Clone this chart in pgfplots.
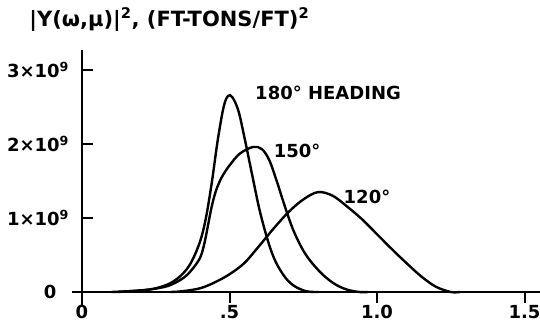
\documentclass[border=0pt]{standalone}
\usepackage{pgfplots}
\pgfplotsset{compat=1.18}
\usepackage{fontspec}
\setmainfont{DejaVu Sans}

\begin{document}
\begin{tikzpicture}
\useasboundingbox (-82pt,-34pt) rectangle (458pt,292pt);
\begin{axis}[
  anchor=origin, at={(0pt,0pt)},
  scale only axis,
  width=468.5pt, height=255.3pt,
  xmin=-0.035, xmax=1.553, ymin=-0.18, ymax=3.27,
  axis lines=middle,
  axis line style={-, line width=2.4pt},
  every inner x axis line/.append style={-},
  every inner y axis line/.append style={-},
  clip=false,
  xtick={0,0.5,1,1.5},
  xticklabels={0,.5,1.0,1.5},
  ytick={0,1,2,3},
  yticklabels={0,1×10\textsuperscript{9},2×10\textsuperscript{9},3×10\textsuperscript{9}},
  major tick length=11pt,
  tick align=center,
  tick style={line width=2pt, black},
  xtick style={yshift=-5.5pt},
  ytick style={xshift=5.5pt},
  tick label style={font=\bfseries\fontsize{18}{20}\selectfont},
  xticklabel style={yshift=-4pt},
  yticklabel style={xshift=-4pt},
]
\addplot[line width=2.4pt, smooth, tension=0.55] coordinates {
 (0.10,0) (0.20,0.02) (0.25,0.05) (0.30,0.12) (0.34,0.24) (0.37,0.40) (0.40,0.68)
 (0.42,1.0) (0.44,1.48) (0.46,2.05) (0.48,2.50) (0.495,2.65) (0.51,2.63) (0.53,2.45)
 (0.55,2.10) (0.58,1.52) (0.60,1.14) (0.62,0.83) (0.64,0.57) (0.66,0.38) (0.69,0.19)
 (0.72,0.08) (0.76,0.01) (0.80,0)
};
\addplot[line width=2.4pt, smooth, tension=0.55] coordinates {
 (0.12,0) (0.22,0.03) (0.29,0.08) (0.34,0.18) (0.37,0.29) (0.40,0.46) (0.415,0.66)
 (0.428,0.92) (0.44,1.16) (0.455,1.38) (0.475,1.56) (0.50,1.71) (0.535,1.87)
 (0.58,1.96) (0.61,1.93) (0.635,1.78) (0.66,1.50) (0.68,1.25) (0.70,1.01) (0.72,0.80)
 (0.75,0.56) (0.78,0.39) (0.82,0.22) (0.86,0.10) (0.90,0.03) (0.94,0.0) (0.97,0)
};
\addplot[line width=2.4pt, smooth, tension=0.55] coordinates {
 (0.30,0) (0.34,0.01) (0.40,0.05) (0.45,0.13) (0.50,0.24) (0.55,0.39) (0.60,0.62)
 (0.65,0.86) (0.70,1.08) (0.75,1.25) (0.80,1.35) (0.85,1.30) (0.90,1.15) (0.95,0.98)
 (1.00,0.78) (1.05,0.58) (1.10,0.39) (1.15,0.21) (1.20,0.07) (1.25,0.0) (1.28,0)
};
\node[font=\bfseries\fontsize{18}{20}\selectfont] at (axis cs:0.834,2.69) {180° HEADING};
\node[font=\bfseries\fontsize{18}{20}\selectfont] at (axis cs:0.729,1.91) {150°};
\node[font=\bfseries\fontsize{18}{20}\selectfont] at (axis cs:0.966,1.28) {120°};
\node[font=\bfseries\fontsize{21}{24}\selectfont, anchor=west] at (axis cs:-0.19,3.68) {|Y(ω,μ)|\textsuperscript{2}, (FT-TONS/FT)\textsuperscript{2}};
\node[font=\bfseries\fontsize{18}{20}\selectfont] at (axis cs:-0.108,0) {0};
\node[font=\bfseries\fontsize{18}{20}\selectfont] at (axis cs:0,-0.27) {0};
\end{axis}
\end{tikzpicture}
\end{document}
